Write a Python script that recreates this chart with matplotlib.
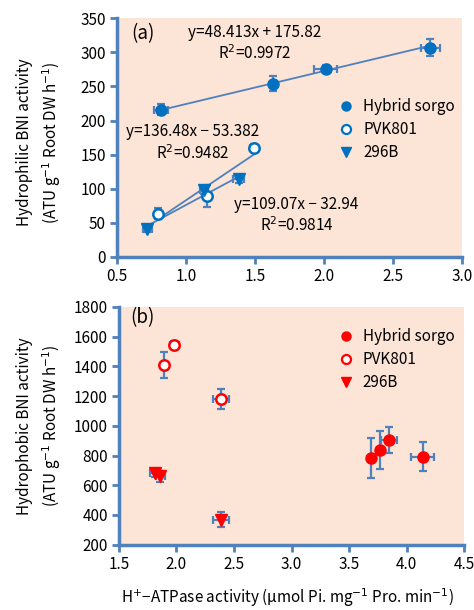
import matplotlib
matplotlib.use("Agg")
import matplotlib.pyplot as plt

plt.rcParams['font.family'] = ['Noto Sans CJK JP', 'DejaVu Sans']
plt.rcParams['mathtext.fontset'] = 'dejavusans'

# (a) hydrophilic BNI vs H+-ATPase
a_hyb_x = [0.82, 1.63, 2.01, 2.77]
a_hyb_y = [216, 254, 275, 307]
a_hyb_xe = [0.05, 0.02, 0.08, 0.07]
a_hyb_ye = [8, 11, 6, 12]

a_pvk_x = [0.80, 1.15, 1.49]
a_pvk_y = [63, 89, 160]
a_pvk_xe = [0.02, 0.03, 0.03]
a_pvk_ye = [8, 16, 5]

a_b96_x = [0.72, 1.13, 1.38]
a_b96_y = [41, 98, 114]
a_b96_xe = [0.03, 0.03, 0.04]
a_b96_ye = [4, 6, 5]

# fitted lines (slope, intercept) from the equations on the chart
fit_hyb = (48.413, 175.82)
fit_pvk = (136.48, -53.382)
fit_b96 = (109.07, -32.94)

# (b) hydrophobic BNI vs H+-ATPase
b_hyb_x = [3.69, 3.77, 3.85, 4.14]
b_hyb_y = [783, 838, 905, 793]
b_hyb_xe = [0.01, 0.02, 0.07, 0.10]
b_hyb_ye = [135, 130, 90, 100]

b_pvk_x = [1.89, 1.98, 2.39]
b_pvk_y = [1408, 1545, 1180]
b_pvk_xe = [0.02, 0.04, 0.07]
b_pvk_ye = [85, 25, 65]

b_b96_x = [1.81, 1.86, 2.39]
b_b96_y = [682, 659, 368]
b_b96_xe = [0.04, 0.04, 0.07]
b_b96_ye = [25, 40, 50]

labels = ['Hybrid sorgo', 'PVK801', '296B']

axis_c = '#4f81bd'
bg = '#fce4d6'
blue = '#0070c0'
red = '#ff0000'
fs = 11

fig = plt.figure(figsize=(4.74, 6.1), dpi=100)
ax1 = fig.add_axes([0.247, 0.579, 0.728, 0.391])
ax2 = fig.add_axes([0.251, 0.107, 0.728, 0.390])


def style(ax):
    ax.set_facecolor(bg)
    for s in ['top', 'right']:
        ax.spines[s].set_visible(False)
    for s in ['left', 'bottom']:
        ax.spines[s].set_color(axis_c)
        ax.spines[s].set_linewidth(2.5)
    ax.tick_params(direction='out', length=5, width=2, color=axis_c,
                   labelsize=fs, pad=3)


def series(ax, x, y, xe, ye, color, marker, filled, label):
    ax.errorbar(x, y, xerr=xe, yerr=ye, fmt='none', ecolor=axis_c,
                elinewidth=1.6, capsize=3, capthick=1.6, zorder=2)
    if filled:
        ax.plot(x, y, linestyle='none', marker=marker, ms=8, mfc=color,
                mec=color, zorder=3)
    else:
        ax.plot(x, y, linestyle='none', marker=marker, ms=7.5, mfc='white',
                mec=color, mew=1.8, zorder=3)
    # legend proxy (slightly smaller markers)
    ax.plot([], [], linestyle='none', marker=marker, ms=6.5,
            mfc=color if filled else 'white', mec=color,
            mew=1.0 if filled else 1.6, label=label)


def fitline(ax, x, fit):
    xs = [min(x), max(x)]
    ax.plot(xs, [fit[0] * v + fit[1] for v in xs], color=axis_c, lw=1.3,
            zorder=1.5)


style(ax1)
fitline(ax1, a_hyb_x, fit_hyb)
fitline(ax1, a_pvk_x, fit_pvk)
fitline(ax1, a_b96_x, fit_b96)
series(ax1, a_hyb_x, a_hyb_y, a_hyb_xe, a_hyb_ye, blue, 'o', True, labels[0])
series(ax1, a_pvk_x, a_pvk_y, a_pvk_xe, a_pvk_ye, blue, 'o', False, labels[1])
series(ax1, a_b96_x, a_b96_y, a_b96_xe, a_b96_ye, blue, 'v', True, labels[2])
ax1.set_xlim(0.5, 3.0)
ax1.set_ylim(0, 350)
ax1.set_xticks([0.5, 1.0, 1.5, 2.0, 2.5, 3.0])
ax1.set_xticklabels(['0.5', '1.0', '1.5', '2.0', '2.5', '3.0'])
ax1.set_yticks(range(0, 351, 50))
ax1.set_ylabel('Hydrophilic BNI activity\n(ATU g$^{-1}$ Root DW h$^{-1}$)',
               fontsize=fs, linespacing=1.45)
ax1.yaxis.set_label_coords(-0.156, 0.48)
ax1.text(0.60, 327, '(a)', fontsize=13.5, va='center')
ax1.text(1.50, 313, 'y=48.413x + 175.82\nR$^2$=0.9972', fontsize=fs,
         ha='center', va='center', linespacing=1.25)
ax1.text(1.05, 167, 'y=136.48x − 53.382\nR$^2$=0.9482', fontsize=fs,
         ha='center', va='center', linespacing=1.25)
ax1.text(1.80, 61, 'y=109.07x − 32.94\nR$^2$=0.9814', fontsize=fs,
         ha='center', va='center', linespacing=1.25)
ax1.legend(loc='upper left', bbox_to_anchor=(0.642, 0.665), frameon=False,
           fontsize=fs, handlelength=1.0, handletextpad=0.6,
           labelspacing=0.4, borderpad=0, borderaxespad=0)

style(ax2)
series(ax2, b_hyb_x, b_hyb_y, b_hyb_xe, b_hyb_ye, red, 'o', True, labels[0])
series(ax2, b_pvk_x, b_pvk_y, b_pvk_xe, b_pvk_ye, red, 'o', False, labels[1])
series(ax2, b_b96_x, b_b96_y, b_b96_xe, b_b96_ye, red, 'v', True, labels[2])
ax2.set_xlim(1.5, 4.5)
ax2.set_ylim(200, 1800)
ax2.set_xticks([1.5, 2.0, 2.5, 3.0, 3.5, 4.0, 4.5])
ax2.set_xticklabels(['1.5', '2.0', '2.5', '3.0', '3.5', '4.0', '4.5'])
ax2.set_yticks(range(200, 1801, 200))
ax2.set_ylabel('Hydrophobic BNI activity\n(ATU g$^{-1}$ Root DW h$^{-1}$)',
               fontsize=fs, linespacing=1.45)
ax2.yaxis.set_label_coords(-0.162, 0.5)
ax2.set_xlabel('H$^{+}$−ATPase activity (μmol Pi. mg$^{-1}$ Pro. min$^{-1}$)',
               fontsize=fs)
ax2.xaxis.set_label_coords(0.488, -0.175)
ax2.text(1.60, 1726, '(b)', fontsize=13.5, va='center')
ax2.legend(loc='upper left', bbox_to_anchor=(0.636, 0.91), frameon=False,
           fontsize=fs, handlelength=1.0, handletextpad=0.6,
           labelspacing=0.4, borderpad=0, borderaxespad=0)

fig.savefig('out.png', dpi=100)
